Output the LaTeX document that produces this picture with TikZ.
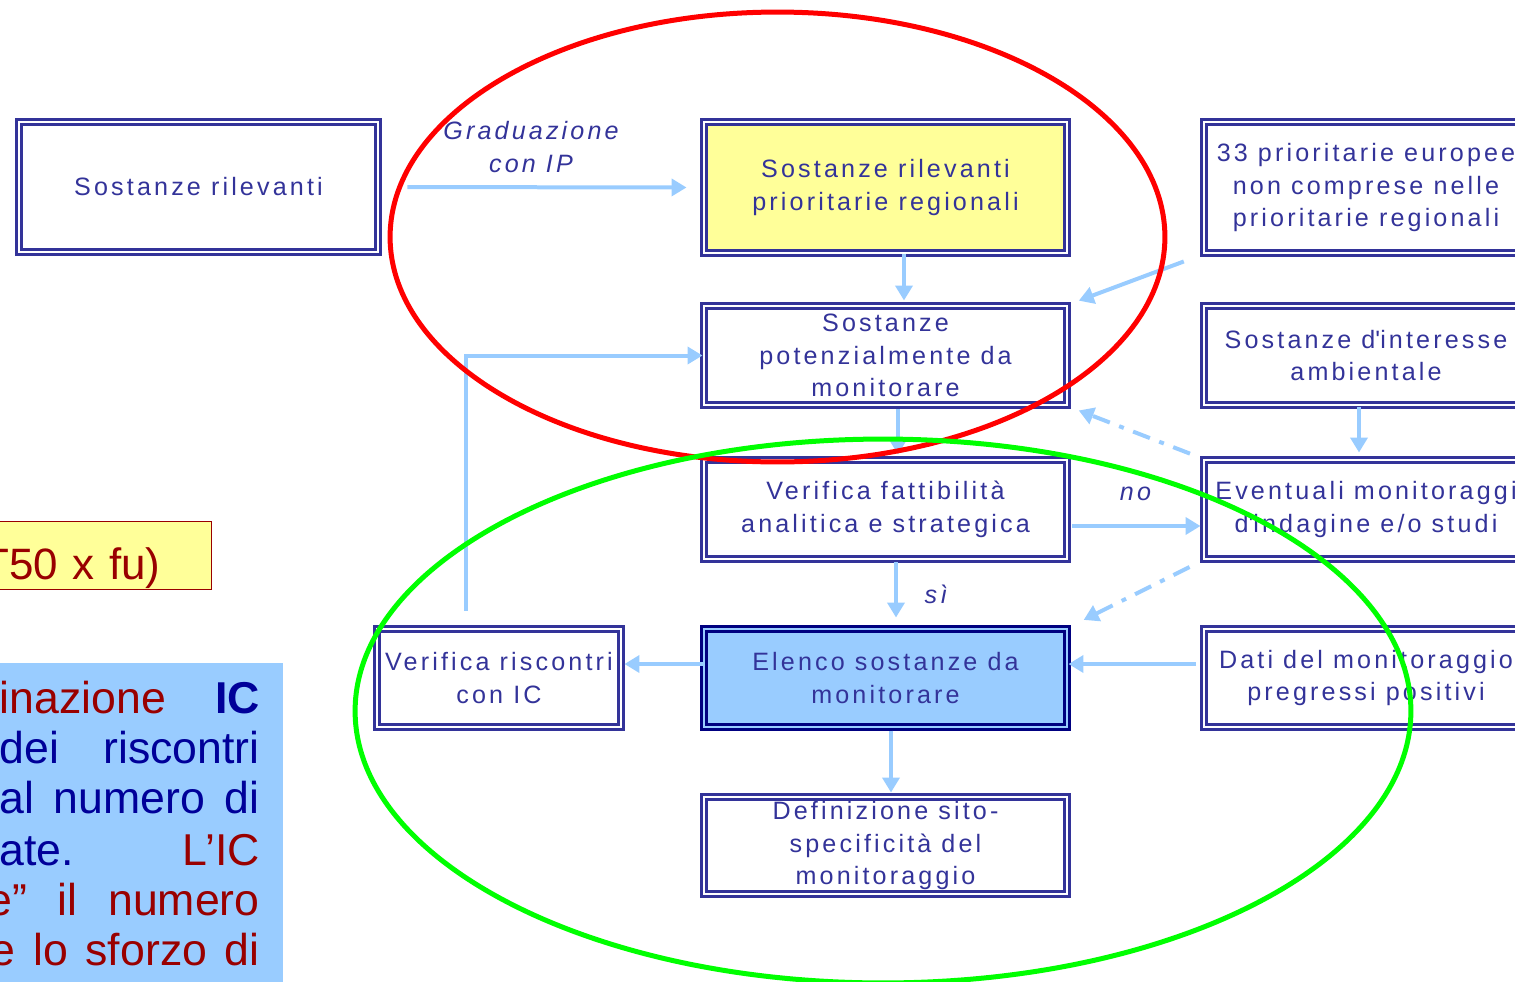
\documentclass[tikz,border=0pt]{standalone}
\usepackage{fontspec}
\setmainfont{Liberation Sans}
\newfontfamily\boxfont[LetterSpace=12.5]{Liberation Sans}
\usetikzlibrary{arrows.meta}

\definecolor{boxblue}{HTML}{333399}
\definecolor{navy}{HTML}{000080}
\definecolor{arrowblue}{HTML}{99CCFF}
\definecolor{boxyellow}{HTML}{FFFF99}
\definecolor{darkred}{HTML}{990000}
\definecolor{darkblue}{HTML}{000099}
\definecolor{ringred}{HTML}{FF0000}
\definecolor{ringgreen}{HTML}{00FF00}

\newcommand\boxtext{\boxfont\fontsize{14.3pt}{18.6pt}\selectfont}
\newcommand\notetext{\fontsize{25.4pt}{28.5pt}\selectfont}

\tikzset{
  flowbox/.style={draw=boxblue, line width=0.06cm, double=white, double distance=0.04cm,
    text=boxblue, font=\boxtext, align=center, inner sep=0pt},
  flowlabel/.style={text=boxblue, font=\boxtext\itshape, inner sep=0pt},
  flow/.style={draw=arrowblue, line width=0.08cm, -{Triangle[length=0.3cm,width=0.34cm]}},
  dashflow/.style={flow, dash pattern=on 0.36cm off 0.2cm on 0.1cm off 0.2cm},
  ring/.style={line width=0.1cm},
  calcbox/.style={draw=darkred, fill=boxyellow, line width=0.02cm, text=darkred,
    font=\fontsize{25pt}{30pt}\selectfont, text width=8cm, align=right,
    inner xsep=1.02cm, inner ysep=0pt, text height=1.16cm, text depth=0.2cm},
  noteline/.style={font=\notetext, text=darkblue, inner sep=0pt}
}

\begin{document}
\begin{tikzpicture}[x=0.02cm, y=-0.02cm]
  \useasboundingbox (0,0) rectangle (1515,981);
  \clip (0,0) rectangle (1515,981);

  % notes on the left
  \node (dt) [calcbox, anchor=base east] at (212,579) {T50 x fu)};
  \fill[arrowblue] (-10,663) rectangle (283,990);
  \node (n1) [noteline, anchor=base east] at (260,713) {\makebox[5.2cm][s]{\textcolor{darkred}{inazione}\hfill\textbf{IC}}};
  \node (n2) [noteline, anchor=base east] at (260,763) {\makebox[5.2cm][s]{dei\hfill riscontri}};
  \node (n3) [noteline, anchor=base east] at (260,813) {\makebox[5.2cm][s]{al \hfill numero \hfill di}};
  \node (n4) [noteline, anchor=base east] at (260,865) {\makebox[5.2cm][s]{ate.\hfill\textcolor{darkred}{L’IC}}};
  \node (n5) [noteline, text=darkred, anchor=base east] at (260,915) {\makebox[5.44cm][s]{e”\hfill il\hfill numero}};
  \node (n6) [noteline, text=darkred, anchor=base east] at (260,965) {\makebox[5.38cm][s]{e \hfill lo \hfill sforzo \hfill di}};

  % boxes
  \node (rel) [flowbox, minimum width=7.18cm, minimum height=2.6cm] at (198.5,187) {Sostanze rilevanti};
  \node (prio) [flowbox, fill=boxyellow, minimum width=7.26cm, minimum height=2.62cm] at (885.5,187.5) {Sostanze rilevanti\\prioritarie regionali};
  \node (euro) [flowbox, minimum width=6.48cm, minimum height=2.62cm] at (1366,187.5) {33 prioritarie europee\\non comprese nelle\\prioritarie regionali};
  \node (pot) [flowbox, minimum width=7.26cm, minimum height=1.98cm] at (885.5,355.5) {Sostanze\\potenzialmente da\\monitorare};
  \node (amb) [flowbox, minimum width=6.48cm, minimum height=1.98cm] at (1366,355.5) {Sostanze d\textquotesingle interesse\\ambientale};
  \node (fatt) [flowbox, minimum width=7.26cm, minimum height=1.98cm] at (885.5,509.5) {Verifica fattibilità\\analitica e strategica};
  \node (event) [flowbox, minimum width=6.48cm, minimum height=1.98cm] at (1366,509.5) {Eventuali monitoraggi\\d\textquotesingle indagine e/o studi};
  \node (risc) [flowbox, minimum width=4.88cm, minimum height=1.96cm] at (499,678) {Verifica riscontri\\con IC};
  \node (elenco) [flowbox, draw=navy, fill=arrowblue, double=arrowblue, minimum width=7.26cm, minimum height=1.96cm] at (885.5,678) {Elenco sostanze da\\monitorare};
  \node (dati) [flowbox, minimum width=6.48cm, minimum height=1.96cm] at (1366,678) {Dati del monitoraggio\\pregressi positivi};
  \node (defin) [flowbox, minimum width=7.26cm, minimum height=1.94cm] at (885.5,845.5) {Definizione sito-\\specificità del\\monitoraggio};

  % connectors
  \node (grad) [flowlabel, align=center] at (531,147) {Graduazione\\con IP};
  \draw[flow, shorten <=0.56cm, shorten >=0.32cm] (rel.east) -- (prio.west);
  \draw[flow, shorten >=0.08cm] ([xshift=0.37cm]prio.south) -- ([xshift=0.37cm]pot.north);
  \draw[flow, shorten <=0.4cm, shorten >=0.22cm] (euro.south west) -- (pot.north east);
  \draw[flow, shorten <=0.06cm, shorten >=0.08cm] ([xshift=0.25cm]pot.south) -- ([xshift=0.25cm]fatt.north);
  \draw[dashflow, shorten <=0.27cm, shorten >=0.22cm] (event.north west) -- (pot.south east);
  \draw[flow, shorten <=0.02cm, shorten >=0.12cm] ([xshift=-0.14cm]amb.south) -- ([xshift=-0.14cm]event.north);
  \draw[flow, shorten <=0.08cm, shorten >=0.04cm] ([yshift=-0.33cm]fatt.east) -- ([yshift=-0.33cm]event.west)
    node (no) [flowlabel, midway, yshift=0.64cm] {no};
  \draw[flow, shorten <=0.04cm, shorten >=0.2cm] ([xshift=0.21cm]fatt.south) -- ([xshift=0.21cm]elenco.north)
    node (si) [flowlabel, midway, xshift=0.8cm] {sì};
  \draw[dashflow, shorten <=0.29cm, shorten >=0.34cm] (event.south west) -- (elenco.north east);
  \draw[flow, shorten <=0.14cm] ([yshift=0.28cm]dati.west) -- ([yshift=0.28cm]elenco.east);
  \draw[flow, shorten >=0.04cm] ([yshift=0.28cm]elenco.west) -- ([yshift=0.28cm]risc.east);
  \draw[flow, shorten <=0.34cm] ([xshift=-0.66cm]risc.north) |- (pot.west);
  \draw[flow, shorten <=0.04cm, shorten >=0.06cm] ([xshift=0.11cm]elenco.south) -- ([xshift=0.11cm]defin.north);

  % rings
  \draw[ring, draw=ringred] (777.5,237) ellipse [x radius=7.75cm, y radius=4.5cm];
  \draw[ring, draw=ringgreen] (883,711) ellipse [x radius=10.56cm, y radius=5.44cm];
\end{tikzpicture}
\end{document}
